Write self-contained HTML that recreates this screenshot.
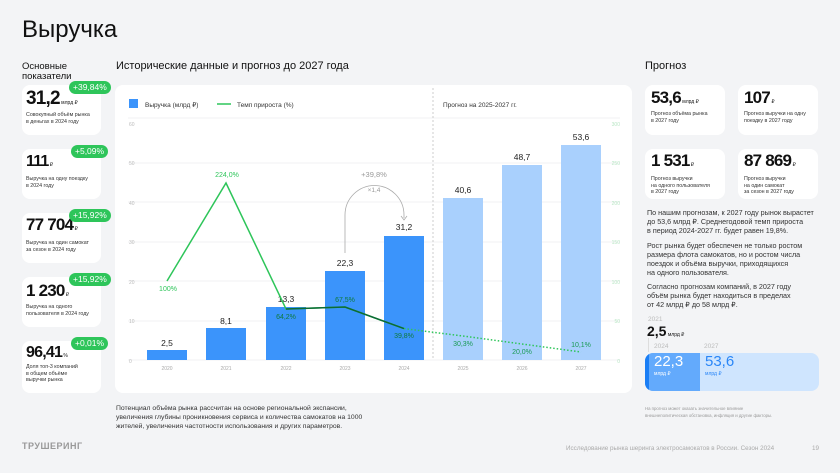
<!DOCTYPE html>
<html><head><meta charset="utf-8"><style>
*{margin:0;padding:0;box-sizing:border-box}
body{width:840px;height:473px;background:#f3f4f6;font-family:"Liberation Sans",sans-serif;color:#111;position:relative;overflow:hidden}
.a{position:absolute}
.card{position:absolute;background:#fff;border-radius:8px}
.big{position:absolute;font-weight:bold;letter-spacing:-0.8px}
.big small{font-size:5px;font-weight:normal;letter-spacing:0}
.lbl{position:absolute;font-size:5.3px;line-height:6.5px;color:#333}
.badge{position:absolute;background:#2ec55a;color:#fff;font-size:8.5px;border-radius:8px;padding:1px 4px;line-height:11px}
.p{font-size:7.2px;line-height:9px;color:#333}
</style></head><body>
<div class="a" style="left:22px;top:16px;font-size:24px">Выручка</div>
<div class="a" style="left:22px;top:62px;font-size:9.5px;line-height:10px">Основные<br>показатели</div>
<div class="a" style="left:116px;top:60px;font-size:11px">Исторические данные и прогноз до 2027 года</div>
<div class="a" style="left:645px;top:60px;font-size:11px">Прогноз</div>

<div class="card" style="left:22px;top:85px;width:79px;height:50px"></div>
<div class="big" style="left:26px;top:88px;font-size:19px">31,2<small> млрд ₽</small></div>
<div class="lbl" style="left:26px;top:112px">Совокупный объём рынка<br>в деньгах в 2024 году</div>
<div class="badge" style="left:69px;top:81px">+39,84%</div>

<div class="card" style="left:22px;top:149px;width:79px;height:50px"></div>
<div class="big" style="left:26px;top:153px;font-size:16px">111<small> ₽</small></div>
<div class="lbl" style="left:26px;top:176px">Выручка на одну поездку<br>в 2024 году</div>
<div class="badge" style="left:71px;top:145px">+5,09%</div>

<div class="card" style="left:22px;top:213px;width:79px;height:50px"></div>
<div class="big" style="left:26px;top:215px;font-size:17px">77 704<small> ₽</small></div>
<div class="lbl" style="left:26px;top:240px">Выручка на один самокат<br>за сезон в 2024 году</div>
<div class="badge" style="left:69px;top:209px">+15,92%</div>

<div class="card" style="left:22px;top:277px;width:79px;height:50px"></div>
<div class="big" style="left:26px;top:281px;font-size:17px">1 230<small> ₽</small></div>
<div class="lbl" style="left:26px;top:304px">Выручка на одного<br>пользователя в 2024 году</div>
<div class="badge" style="left:69px;top:273px">+15,92%</div>

<div class="card" style="left:22px;top:341px;width:79px;height:52px"></div>
<div class="big" style="left:26px;top:344px;font-size:16px">96,41<small> %</small></div>
<div class="lbl" style="left:26px;top:364px">Доля топ-3 компаний<br>в общем объёме<br>выручки рынка</div>
<div class="badge" style="left:71px;top:337px">+0,01%</div>

<div class="card" style="left:115px;top:85px;width:517px;height:308px"></div>
<svg class="a" style="left:0;top:0" width="840" height="473" font-family="Liberation Sans,sans-serif">
<g stroke="#f0f1f3" stroke-width="1">
<line x1="128" y1="118" x2="620" y2="118"/><line x1="128" y1="163" x2="620" y2="163"/><line x1="128" y1="202" x2="620" y2="202"/><line x1="128" y1="242" x2="620" y2="242"/><line x1="128" y1="281" x2="620" y2="281"/><line x1="128" y1="321" x2="620" y2="321"/><line x1="128" y1="360" x2="620" y2="360"/></g>
<line x1="433" y1="88" x2="433" y2="360" stroke="#ccc" stroke-dasharray="2,2"/>
<g font-size="5" fill="#bbb"><text x="129" y="126">60</text><text x="129" y="165">50</text><text x="129" y="205">40</text><text x="129" y="244">30</text><text x="129" y="284">20</text><text x="129" y="323">10</text><text x="129" y="363">0</text></g>
<g font-size="5" fill="#b8e6c4" text-anchor="end"><text x="620" y="126">300</text><text x="620" y="165">250</text><text x="620" y="205">200</text><text x="620" y="244">150</text><text x="620" y="284">100</text><text x="620" y="323">50</text><text x="620" y="363">0</text></g>
<rect x="129" y="99" width="9" height="9" fill="#3b94fb"/>
<text x="145" y="107" font-size="6.5" fill="#333">Выручка (млрд ₽)</text>
<line x1="217" y1="104" x2="231" y2="104" stroke="#2ec55a" stroke-width="1.5"/>
<text x="237" y="107" font-size="6.5" fill="#333">Темп прироста (%)</text>
<text x="443" y="107" font-size="6.5" fill="#333">Прогноз на 2025-2027 гг.</text>
<g fill="#3b94fb">
<rect x="147" y="350" width="40" height="10"/><rect x="206" y="328" width="40" height="32"/><rect x="266" y="307" width="40" height="53"/><rect x="325" y="271" width="40" height="89"/><rect x="384" y="236" width="40" height="124"/></g>
<g fill="#a9d0fd"><rect x="443" y="198" width="40" height="162"/><rect x="502" y="165" width="40" height="195"/><rect x="561" y="145" width="40" height="215"/></g>
<g font-size="8.5" text-anchor="middle" fill="#222"><text x="167" y="346">2,5</text><text x="226" y="324">8,1</text><text x="286" y="302">13,3</text><text x="345" y="266">22,3</text><text x="404" y="230">31,2</text><text x="463" y="193">40,6</text><text x="522" y="160">48,7</text><text x="581" y="140">53,6</text></g>
<g font-size="5" text-anchor="middle" fill="#aaa"><text x="167" y="370">2020</text><text x="226" y="370">2021</text><text x="286" y="370">2022</text><text x="345" y="370">2023</text><text x="404" y="370">2024</text><text x="463" y="370">2025</text><text x="522" y="370">2026</text><text x="581" y="370">2027</text></g>
<polyline points="167,281 226,183 286,309 345,307 404,328.6" fill="none" stroke="#2ec55a" stroke-width="1.5"/>
<polyline points="286,309 345,307 404,328.6" fill="none" stroke="#0d6b35" stroke-width="1.5"/>
<polyline points="404,328.6 463,336 522,344 581,352" fill="none" stroke="#2ec55a" stroke-width="1.5" stroke-dasharray="1.5,2"/>
<g font-size="7" text-anchor="middle"><text x="168" y="291" fill="#2ec55a">100%</text><text x="227" y="177" fill="#2ec55a">224,0%</text><text x="286" y="319" fill="#0e7a3c">64,2%</text><text x="345" y="302" fill="#0e7a3c">67,5%</text><text x="404" y="338" fill="#0e7a3c">39,8%</text><text x="463" y="346" fill="#1a9a55">30,3%</text><text x="522" y="354" fill="#1a9a55">20,0%</text><text x="581" y="347" fill="#1a9a55">10,1%</text></g>
<path d="M345,253 V215 A29,29 0 0 1 404,215 V218" fill="none" stroke="#aaa" stroke-width="0.8"/>
<path d="M401,216 L404,220 L407,216" fill="none" stroke="#aaa" stroke-width="0.8"/>
<text x="374" y="177" font-size="7.5" fill="#999" text-anchor="middle">+39,8%</text>
<text x="374" y="192" font-size="6.5" fill="#999" text-anchor="middle">×1,4</text>
</svg>
<div class="a p" style="left:116px;top:405px;font-size:6.8px;line-height:8.8px">Потенциал объёма рынка рассчитан на основе региональной экспансии,<br>увеличения глубины проникновения сервиса и количества самокатов на 1000<br>жителей, увеличения частотности использования и других параметров.</div>

<div class="card" style="left:645px;top:85px;width:80px;height:50px"></div>
<div class="big" style="left:651px;top:88px;font-size:17px">53,6<small> млрд ₽</small></div>
<div class="lbl" style="left:651px;top:111px">Прогноз объёма рынка<br>в 2027 году</div>
<div class="card" style="left:738px;top:85px;width:80px;height:50px"></div>
<div class="big" style="left:744px;top:88px;font-size:17px">107<small> ₽</small></div>
<div class="lbl" style="left:744px;top:111px">Прогноз выручки на одну<br>поездку в 2027 году</div>
<div class="card" style="left:645px;top:149px;width:80px;height:50px"></div>
<div class="big" style="left:651px;top:151px;font-size:17px">1 531<small> ₽</small></div>
<div class="lbl" style="left:651px;top:176px">Прогноз выручки<br>на одного пользователя<br>в 2027 году</div>
<div class="card" style="left:738px;top:149px;width:80px;height:50px"></div>
<div class="big" style="left:744px;top:151px;font-size:17px">87 869<small> ₽</small></div>
<div class="lbl" style="left:744px;top:176px">Прогноз выручки<br>на один самокат<br>за сезон в 2027 году</div>

<div class="a p" style="left:647px;top:208px">По нашим прогнозам, к 2027 году рынок вырастет<br>до 53,6 млрд ₽. Среднегодовой темп прироста<br>в период 2024-2027 гг. будет равен 19,8%.</div>
<div class="a p" style="left:647px;top:241px">Рост рынка будет обеспечен не только ростом<br>размера флота самокатов, но и ростом числа<br>поездок и объёма выручки, приходящихся<br>на одного пользователя.</div>
<div class="a p" style="left:647px;top:282px">Согласно прогнозам компаний, в 2027 году<br>объём рынка будет находиться в пределах<br>от 42 млрд ₽ до 58 млрд ₽.</div>
<div class="a" style="left:648px;top:316px;font-size:6.5px;color:#bbb">2021</div>
<div class="a" style="left:647px;top:323px;font-size:14px;font-weight:bold">2,5<span style="font-size:5px;font-weight:normal"> млрд ₽</span></div>
<div class="a" style="left:648px;top:338px;width:1px;height:14px;background:#ddd"></div>
<div class="a" style="left:654px;top:343px;font-size:6.5px;color:#bbb">2024</div>
<div class="a" style="left:704px;top:343px;font-size:6.5px;color:#bbb">2027</div>
<div class="a" style="left:645px;top:353px;width:174px;height:38px;background:#cfe5fe;border-radius:8px;overflow:hidden"><div style="width:55px;height:38px;background:#63aafc;border-left:4px solid #1a7ef5"></div></div>
<div class="a" style="left:654px;top:353px;font-size:15px;color:#fff">22,3</div>
<div class="a" style="left:654px;top:371px;font-size:5px;color:#fff">млрд ₽</div>
<div class="a" style="left:705px;top:353px;font-size:15px;color:#2a86f7">53,6</div>
<div class="a" style="left:705px;top:371px;font-size:5px;color:#2a86f7">млрд ₽</div>
<div class="a" style="left:645px;top:405px;font-size:4.3px;line-height:7px;color:#999">На прогноз может оказать значительное влияние<br>внешнеполитическая обстановка, инфляция и другие факторы.</div>

<div class="a" style="left:22px;top:441px;font-size:9px;font-weight:bold;color:#999;letter-spacing:0.5px">ТРУШЕРИНГ</div>
<div class="a" style="left:566px;top:445px;font-size:6.3px;color:#aaa">Исследование рынка шеринга электросамокатов в России. Сезон 2024</div>
<div class="a" style="left:812px;top:445px;font-size:6.3px;color:#aaa">19</div>
</body></html>
